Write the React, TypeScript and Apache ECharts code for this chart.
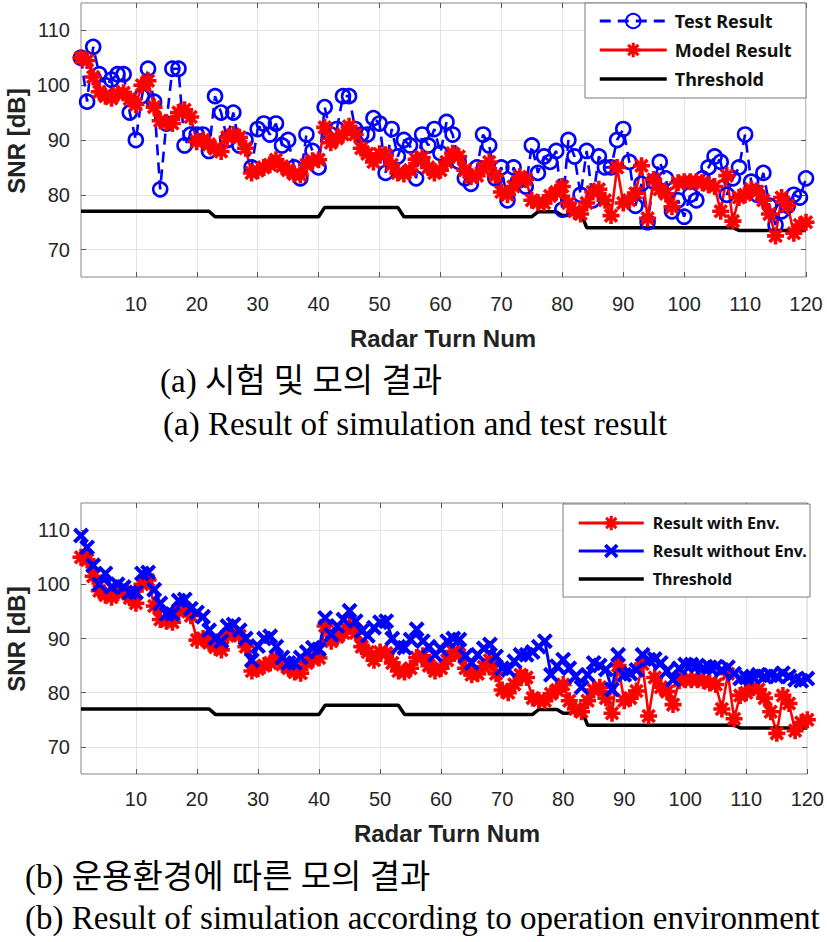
import React, { useEffect, useRef } from "react";
import * as echarts from "echarts";

// ---- tick values ----
const xTicks = [10, 20, 30, 40, 50, 60, 70, 80, 90, 100, 110, 120];
const yTicks = [70, 80, 90, 100, 110];

// ---- series values (index 0 = radar turn 1) ----
const testResult = [
  105, 97, 107, 102, 100, 101, 102, 102, 95, 90,
  98, 103, 97, 81, 93, 103, 103, 89, 91, 91,
  91, 88, 98, 95, 90, 95, 89, 90, 85, 92,
  93, 91, 93, 89, 90, 85, 83, 91, 88, 85,
  96, 91, 92, 98, 98, 92, 91, 91, 94, 93,
  84, 92, 87, 90, 89, 83, 91, 89, 92, 87.6,
  93.3, 91, 86, 83, 82, 85, 91, 89, 83, 85,
  79, 85, 82.7, 81.5, 89, 84, 87, 86, 88, 77.3,
  90, 87, 80, 88, 79, 87, 85, 85, 90, 92,
  86, 78, 82, 75, 82.4, 86, 83, 77, 79, 76,
  80, 79, 83, 85, 87, 86, 80, 83, 85, 91,
  82.4, 80, 84, 78, 74.5, 77, 78, 80, 79.5, 83,
];

const modelResult = [
  105, 104.5, 101.5, 98.8, 98, 97.6, 98.5, 98.6, 97.5, 96.5,
  100, 100.8, 96, 93.5, 93.2, 93, 95, 95.5, 94.2, 89.7,
  90, 89.2, 88.4, 87.9, 90.5, 91, 90.5, 88.5, 84, 84.4,
  85, 85.5, 86.4, 85.2, 84.5, 83.8, 83.6, 85.5, 86.2, 86.4,
  92.3, 89.5, 90.3, 91, 92.5, 91, 88.5, 87.5, 86, 87.5,
  87.3, 85.5, 84, 83.8, 84.5, 86.5, 86.8, 85, 84, 84.5,
  86, 87.6, 87, 84.5, 83.3, 83.5, 84.8, 86, 83.5, 80.5,
  80, 81.5, 83.3, 82.8, 79, 78.6, 78.5, 79.8, 80.5, 81.5,
  78.5, 77, 76.5, 78.5, 80.5, 81, 79, 76.2, 85, 78.5,
  79, 80.3, 85.3, 75.7, 82.8, 81, 80.2, 77.8, 82.2, 82.4,
  82.4, 82.4, 82.2, 81.8, 81.5, 77, 83.5, 75.2, 79.5, 80,
  81, 80.6, 79, 76.5, 72.5, 79.5, 78, 73, 74.5, 75,
];

const withoutEnv = [
  109, 106.8, 103.5, 100, 102, 99.5, 100, 99.5, 98.5, 98.5,
  102, 102.2, 99, 96.5, 94.5, 94.5, 97, 97.2, 95.5, 94.8,
  94, 91.5, 90, 89.5, 92.3, 92.6, 91.5, 90, 86, 88.6,
  90, 90.4, 88.5, 86.5, 85.5, 85.5, 86.5, 87.5, 88.3, 88,
  93.8, 90.7, 92.3, 93.5, 95.1, 93.2, 91.4, 90.5, 92, 93,
  93.2, 90, 88.5, 88.3, 89.8, 91.7, 89.5, 88.5, 87, 88,
  89.5, 90, 89.8, 86.8, 85.5, 87, 88.2, 88.9, 86.7, 84.5,
  84.2, 85.8, 87, 87, 87.5, 88.5, 89.5, 83.3, 84.9, 86.1,
  84.5, 83, 81, 83.3, 85.5, 85, 84.3, 80.6, 87, 83.3,
  83.5, 84.2, 87, 86.1, 86.2, 85.5, 84, 82.4, 84.5, 85.2,
  85.2, 85, 84.6, 84.7, 84.8, 84.2, 84.7, 83.5, 82.6, 82.8,
  83, 83.3, 83, 83.2, 83, 83.6, 83, 82.4, 82.2, 82.6,
];

const threshold = [
  77, 77, 77, 77, 77, 77, 77, 77, 77, 77,
  77, 77, 77, 77, 77, 77, 77, 77, 77, 77,
  77, 77, 76, 76, 76, 76, 76, 76, 76, 76,
  76, 76, 76, 76, 76, 76, 76, 76, 76, 76,
  77.7, 77.7, 77.7, 77.7, 77.7, 77.7, 77.7, 77.7, 77.7, 77.7,
  77.7, 77.7, 77.7, 76, 76, 76, 76, 76, 76, 76,
  76, 76, 76, 76, 76, 76, 76, 76, 76, 76,
  76, 76, 76, 76, 76, 76.9, 76.9, 76.9, 76.9, 76.2,
  76.2, 76.6, 76.9, 74, 74, 74, 74, 74, 74, 74,
  74, 74, 74, 74, 74, 74, 74, 74, 74, 74,
  74, 74, 74, 74, 74, 74, 74, 74, 73.5, 73.5,
  73.5, 73.5, 73.5, 73.5, 73.5, 73.5, 73.5, 73.5, 73.5, 73.5,
];

const ASTERISK =
  "path://M-10,-2.1L10,-2.1L10,2.1L-10,2.1Z M2.1,-10L2.1,10L-2.1,10L-2.1,-10Z M-5.59,-8.56L8.56,5.59L5.59,8.56L-8.56,-5.59Z M-8.56,5.59L5.59,-8.56L8.56,-5.59L-5.59,8.56Z";
const CROSS =
  "path://M-5.52,-8.63L8.63,5.52L5.52,8.63L-8.63,-5.52Z M-8.63,5.52L5.52,-8.63L8.63,-5.52L-5.52,8.63Z";

const toPairs = (vals: number[]) => vals.map((v, i) => [i + 1, v]);

const SANS = '"Liberation Sans", Arial, sans-serif';
const SERIF = '"Liberation Serif", "Noto Sans CJK KR", serif';
const FRAME = "#858585";
const GRIDLINE = "#e4e4e4";
const TICKCOL = "#262626";

function xAxisPair(gridIndex: number, margin: number) {
  return [
    {
      type: "value",
      gridIndex,
      position: "bottom",
      min: 1,
      max: 120,
      axisLine: { show: false },
      axisTick: { show: true, inside: true, length: 5, lineStyle: { color: "#555" }, customValues: xTicks },
      axisLabel: { show: true, customValues: xTicks, fontSize: 20, color: TICKCOL, fontFamily: SANS, margin },
      splitLine: { show: true, lineStyle: { color: GRIDLINE, width: 1 } },
    },
    {
      type: "value",
      gridIndex,
      position: "top",
      min: 1,
      max: 120,
      axisLine: { show: false },
      axisTick: { show: true, inside: true, length: 5, lineStyle: { color: "#555" }, customValues: xTicks },
      axisLabel: { show: false, customValues: xTicks },
      splitLine: { show: false },
    },
  ];
}

function yAxisPair(gridIndex: number) {
  return [
    {
      type: "value",
      gridIndex,
      position: "left",
      min: 65,
      max: 115,
      axisLine: { show: false },
      axisTick: { show: true, inside: true, length: 5, lineStyle: { color: "#555" }, customValues: yTicks },
      axisLabel: { show: true, customValues: yTicks, fontSize: 20, color: TICKCOL, fontFamily: SANS, margin: 11 },
      splitLine: { show: true, lineStyle: { color: GRIDLINE, width: 1 } },
    },
    {
      type: "value",
      gridIndex,
      position: "right",
      min: 65,
      max: 115,
      axisLine: { show: false },
      axisTick: { show: true, inside: true, length: 5, lineStyle: { color: "#555" }, customValues: yTicks },
      axisLabel: { show: false, customValues: yTicks },
      splitLine: { show: false },
    },
  ];
}

const legendText = {
  fontFamily: '"Noto Sans", sans-serif',
  fontWeight: "bold" as const,
  color: "#111",
};

export default function App() {
  const ref = useRef<HTMLDivElement>(null);

  useEffect(() => {
    if (!ref.current) return;
    const chart = echarts.init(ref.current, undefined, { renderer: "svg" });
    const option: any = {
      animation: false,
      backgroundColor: "#ffffff",
      grid: [
        { left: 81, top: 3, width: 725, height: 274, show: true, borderColor: FRAME, borderWidth: 1, backgroundColor: "#fff" },
        { left: 81, top: 503, width: 729, height: 271, show: true, borderColor: FRAME, borderWidth: 1, backgroundColor: "#fff" },
      ],
      xAxis: [...xAxisPair(0, 17), ...xAxisPair(1, 15)],
      yAxis: [...yAxisPair(0), ...yAxisPair(1)],
      legend: [
        {
          data: [
            { name: "Test Result", lineStyle: { width: 2.8 } },
            { name: "Model Result", lineStyle: { width: 2.8 } },
            { name: "Threshold", itemStyle: { opacity: 0 }, lineStyle: { width: 3.5 } },
          ],
          orient: "vertical",
          left: 598,
          top: 11,
          padding: 0,
          itemWidth: 67,
          itemHeight: 18,
          itemGap: 9,
          selectedMode: false,
          textStyle: { ...legendText, fontSize: 18, lineHeight: 20, padding: [0, 0, 0, 3] },
        },
        {
          data: [
            { name: "Result with Env.", lineStyle: { width: 3 } },
            { name: "Result without Env.", lineStyle: { width: 3 } },
            { name: "Threshold", itemStyle: { opacity: 0 }, lineStyle: { width: 3.5 } },
          ],
          orient: "vertical",
          left: 577,
          top: 513,
          padding: 0,
          itemWidth: 65,
          itemHeight: 18,
          itemGap: 8,
          selectedMode: false,
          textStyle: { ...legendText, fontSize: 16, lineHeight: 20, padding: [0, 0, 0, 4] },
        },
      ],
      series: [
        {
          name: "Test Result",
          type: "line",
          xAxisIndex: 0,
          yAxisIndex: 0,
          data: toPairs(testResult),
          symbol: "circle",
          symbolSize: 14,
          itemStyle: { color: "rgba(0,0,255,0)", borderColor: "#0000ff", borderWidth: 2.6 },
          lineStyle: { color: "#0000ff", width: 2.6, type: [11, 7] },
          z: 2,
        },
        {
          name: "Model Result",
          type: "line",
          xAxisIndex: 0,
          yAxisIndex: 0,
          data: toPairs(modelResult),
          symbol: ASTERISK,
          symbolSize: 17,
          itemStyle: { color: "#ff0000" },
          lineStyle: { color: "#ff0000", width: 2.6 },
          z: 2,
        },
        {
          name: "Threshold",
          type: "line",
          xAxisIndex: 0,
          yAxisIndex: 0,
          data: toPairs(threshold),
          symbol: "none",
          itemStyle: { color: "#000" },
          lineStyle: { color: "#000", width: 3.5 },
          z: 2,
        },
        {
          name: "Result with Env.",
          type: "line",
          xAxisIndex: 2,
          yAxisIndex: 2,
          data: toPairs(modelResult),
          symbol: ASTERISK,
          symbolSize: 17,
          itemStyle: { color: "#ff0000" },
          lineStyle: { color: "#ff0000", width: 2.6 },
          z: 2,
        },
        {
          name: "Result without Env.",
          type: "line",
          xAxisIndex: 2,
          yAxisIndex: 2,
          data: toPairs(withoutEnv),
          symbol: CROSS,
          symbolSize: 16,
          itemStyle: { color: "#0000ff" },
          lineStyle: { color: "#0000ff", width: 3 },
          z: 2,
        },
        {
          name: "Threshold",
          type: "line",
          xAxisIndex: 2,
          yAxisIndex: 2,
          data: toPairs(threshold),
          symbol: "none",
          itemStyle: { color: "#000" },
          lineStyle: { color: "#000", width: 3.5 },
          z: 2,
        },
      ],
      graphic: [
        { type: "rect", z: 3, shape: { x: 585, y: 3, width: 221, height: 95 }, style: { fill: "#fff", stroke: "#7a7a7a", lineWidth: 1 } },
        { type: "rect", z: 3, shape: { x: 563, y: 504, width: 247, height: 93 }, style: { fill: "#fff", stroke: "#7a7a7a", lineWidth: 1 } },
        {
          type: "text", x: 16, y: 141, rotation: Math.PI / 2,
          style: { text: "SNR [dB]", font: `bold 24px ${SANS}`, fill: "#222", textAlign: "center", textVerticalAlign: "middle" },
        },
        {
          type: "text", x: 16, y: 639, rotation: Math.PI / 2,
          style: { text: "SNR [dB]", font: `bold 24px ${SANS}`, fill: "#222", textAlign: "center", textVerticalAlign: "middle" },
        },
        {
          type: "text", x: 443, y: 338,
          style: { text: "Radar Turn Num", font: `bold 24px ${SANS}`, fill: "#222", textAlign: "center", textVerticalAlign: "middle" },
        },
        {
          type: "text", x: 447, y: 833,
          style: { text: "Radar Turn Num", font: `bold 24px ${SANS}`, fill: "#222", textAlign: "center", textVerticalAlign: "middle" },
        },
        {
          type: "text", x: 160, y: 381,
          style: { text: "(a) 시험 및 모의 결과", font: `33px ${SERIF}`, fill: "#000", textAlign: "left", textVerticalAlign: "middle" },
        },
        {
          type: "text", x: 163, y: 424,
          style: { text: "(a) Result of simulation and test result", font: `33px ${SERIF}`, fill: "#000", textAlign: "left", textVerticalAlign: "middle" },
        },
        {
          type: "text", x: 25, y: 877,
          style: { text: "(b) 운용환경에 따른 모의 결과", font: `33px ${SERIF}`, fill: "#000", textAlign: "left", textVerticalAlign: "middle" },
        },
        {
          type: "text", x: 25, y: 918,
          style: { text: "(b) Result of simulation according to operation environment", font: `33px ${SERIF}`, fill: "#000", textAlign: "left", textVerticalAlign: "middle" },
        },
      ],
    };
    chart.setOption(option);
    return () => chart.dispose();
  }, []);

  return (
    <div
      ref={ref}
      style={{ position: "absolute", left: 0, top: 0, width: 827, height: 942, background: "#fff" }}
    />
  );
}
